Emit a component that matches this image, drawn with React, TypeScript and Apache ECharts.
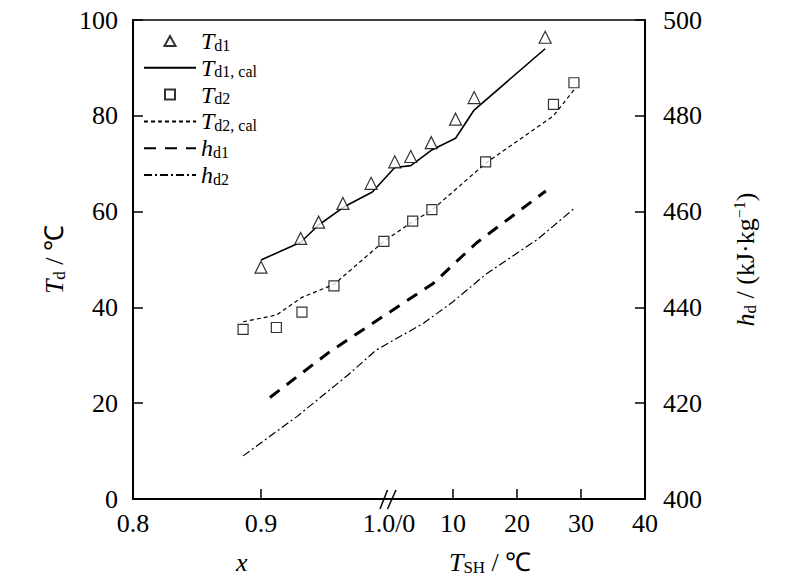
import React, { useEffect, useRef } from 'react';
import * as echarts from 'echarts';

// [scale, position, value]; scale "x" = vapour quality x, "sh" = superheat TSH (°C)
type Pt = [string, number, number];

const xLabelValues = [0, 2, 4, 5, 6, 7, 8];
const xLabelTexts = ['0.8', '0.9', '1.0/0', '10', '20', '30', '40'];
const xInnerTicks = [2, 5, 6, 7];

const td1Measured: Pt[] = [
  ['x', 0.9, 48.4], ['x', 0.931, 54.4], ['x', 0.945, 57.8], ['x', 0.964, 61.7], ['x', 0.986, 65.9],
  ['sh', 0.9, 70.4], ['sh', 3.4, 71.5], ['sh', 6.6, 74.4], ['sh', 10.4, 79.3], ['sh', 13.3, 83.8], ['sh', 24.4, 96.4],
];
const td1Cal: Pt[] = [
  ['x', 0.9, 49.9], ['x', 0.931, 53.6], ['x', 0.945, 57.2], ['x', 0.965, 61.0], ['x', 0.987, 64.1],
  ['sh', 0.9, 69.2], ['sh', 3.4, 69.6], ['sh', 6.6, 72.8], ['sh', 10.4, 75.3], ['sh', 13.3, 81.2], ['sh', 24.4, 94.0],
];
const td2Measured: Pt[] = [
  ['x', 0.886, 35.4], ['x', 0.912, 35.8], ['x', 0.932, 39.0], ['x', 0.957, 44.5], ['x', 0.996, 53.8],
  ['sh', 3.7, 58.0], ['sh', 6.7, 60.4], ['sh', 15.1, 70.4], ['sh', 25.7, 82.4], ['sh', 28.9, 86.9],
];
const td2Cal: Pt[] = [
  ['x', 0.886, 37.0], ['x', 0.912, 38.4], ['x', 0.932, 42.1], ['x', 0.957, 44.8], ['x', 0.996, 53.8],
  ['sh', 3.7, 57.9], ['sh', 6.7, 60.3], ['sh', 15.1, 70.1], ['sh', 25.7, 80.0], ['sh', 28.9, 85.4],
];
const hd1Cal: Pt[] = [
  ['x', 0.907, 421.2], ['x', 0.954, 430.8], ['sh', 2.0, 440.7], ['sh', 6.9, 445.0], ['sh', 13.7, 453.5], ['sh', 24.5, 464.3],
];
const hd2Cal: Pt[] = [
  ['x', 0.886, 409.0], ['x', 0.928, 417.2], ['x', 0.968, 425.9], ['x', 0.99, 431.1],
  ['sh', 5.4, 436.7], ['sh', 10.0, 441.2], ['sh', 15.3, 447.1], ['sh', 23.1, 454.1], ['sh', 28.8, 460.5],
];

const legendNames = ['Td1', 'Td1, cal', 'Td2', 'Td2, cal', 'hd1', 'hd2'];

const toAxis = (scale: string, v: number) => (scale === 'x' ? (v - 0.8) * 20 : 4 + v / 10);
const toSeries = (pts: Pt[]) => pts.map(([s, p, v]) => [toAxis(s, p), v]);

const FONT = "'Liberation Serif', serif";
const TRIANGLE_ICON = 'path://M5,0 L10,9 L0,9 Z';
const SQUARE_ICON = 'path://M0,0 L9,0 L9,9 L0,9 Z';

export default function App() {
  const ref = useRef<HTMLDivElement>(null);
  useEffect(() => {
    if (!ref.current) return;
    const chart = echarts.init(ref.current, undefined, { renderer: 'svg' });
    const nameRich = {
      i: { fontFamily: FONT, fontStyle: 'italic', fontSize: 26, lineHeight: 28, color: '#000' },
      s: { fontFamily: FONT, fontSize: 17, lineHeight: 13, verticalAlign: 'bottom', color: '#000' },
      n: { fontFamily: FONT, fontSize: 26, lineHeight: 28, color: '#000' },
      sup: { fontFamily: FONT, fontSize: 16, lineHeight: 14, verticalAlign: 'top', color: '#000' },
    };
    const tickRich = { t: { fontFamily: FONT, fontSize: 26, lineHeight: 28, color: '#000' } };
    const lineAxis = { show: true, lineStyle: { color: '#000', width: 2 } };
    const lineLegend = (name: string) => ({ name, itemStyle: { opacity: 0 } });
    chart.setOption({
      animation: false,
      backgroundColor: '#fff',
      textStyle: { fontFamily: FONT, color: '#000' },
      grid: { left: 133, right: 155, top: 20, bottom: 85, show: true, borderColor: '#000', borderWidth: 1.5, backgroundColor: 'transparent' },
      legend: {
        orient: 'vertical',
        left: 143,
        top: 29,
        padding: 0,
        itemGap: 2.8,
        itemWidth: 52,
        itemHeight: 10,
        symbolKeepAspect: true,
        data: [
          { name: legendNames[0], icon: TRIANGLE_ICON },
          lineLegend(legendNames[1]),
          { name: legendNames[2], icon: SQUARE_ICON },
          lineLegend(legendNames[3]),
          lineLegend(legendNames[4]),
          lineLegend(legendNames[5]),
        ],
        formatter: (name: string) => `{i|${name[0]}}{s|${name.slice(1)}}`,
        textStyle: {
          fontFamily: FONT,
          color: '#000',
          rich: {
            i: { fontFamily: FONT, fontStyle: 'italic', fontSize: 24, lineHeight: 24, color: '#000' },
            s: { fontFamily: FONT, fontSize: 16, lineHeight: 12, verticalAlign: 'bottom', color: '#000' },
          },
        },
      },
      xAxis: {
        type: 'value',
        min: 0,
        max: 8,
        interval: 1,
        axisLine: lineAxis,
        splitLine: { show: false },
        axisTick: { show: true, inside: true, length: 10, customValues: xInnerTicks, lineStyle: { color: '#000', width: 1.5 } },
        axisLabel: {
          fontFamily: FONT,
          fontSize: 26,
          color: '#000',
          margin: 10,
          customValues: xLabelValues,
          rich: tickRich,
          formatter: (v: number) => {
            const i = xLabelValues.indexOf(v);
            return i >= 0 ? `{t|${xLabelTexts[i]}}` : '';
          },
        },
      },
      yAxis: [
        {
          type: 'value',
          min: 0,
          max: 100,
          interval: 20,
          position: 'left',
          axisLine: lineAxis,
          splitLine: { show: false },
          axisTick: { show: true, inside: true, length: 10, lineStyle: { color: '#000', width: 1.5 } },
          axisLabel: { fontFamily: FONT, fontSize: 26, color: '#000', margin: 15, rich: tickRich, formatter: (v: number) => `{t|${v}}` },
          name: '{i|T}{s|d}{n| / ℃}',
          nameLocation: 'middle',
          nameRotate: 90,
          nameGap: 64,
          nameTextStyle: { rich: nameRich },
        },
        {
          type: 'value',
          min: 400,
          max: 500,
          interval: 20,
          position: 'right',
          axisLine: lineAxis,
          splitLine: { show: false },
          axisTick: { show: true, inside: true, length: 10, lineStyle: { color: '#000', width: 1.5 } },
          axisLabel: { fontFamily: FONT, fontSize: 26, color: '#000', margin: 18, rich: tickRich, formatter: (v: number) => `{t|${v}}` },
          name: '{i|h}{s|d}{n| / (kJ·kg}{sup|−1}{n|)}',
          nameLocation: 'middle',
          nameRotate: 90,
          nameGap: 86,
          nameTextStyle: { rich: nameRich },
        },
      ],
      series: [
        {
          name: legendNames[0],
          type: 'scatter',
          symbol: 'triangle',
          symbolSize: 12,
          itemStyle: { color: '#fff', borderColor: '#000', borderWidth: 1.2 },
          data: toSeries(td1Measured),
          z: 5,
        },
        {
          name: legendNames[1],
          type: 'line',
          symbol: 'none',
          itemStyle: { color: '#000' },
          lineStyle: { color: '#000', width: 1.6, type: 'solid' },
          data: toSeries(td1Cal),
        },
        {
          name: legendNames[2],
          type: 'scatter',
          symbol: 'rect',
          symbolSize: 10,
          itemStyle: { color: '#fff', borderColor: '#000', borderWidth: 1.2 },
          data: toSeries(td2Measured),
          z: 5,
        },
        {
          name: legendNames[3],
          type: 'line',
          symbol: 'none',
          itemStyle: { color: '#000' },
          lineStyle: { color: '#000', width: 1.2, type: [4, 3] },
          data: toSeries(td2Cal),
        },
        {
          name: legendNames[4],
          type: 'line',
          symbol: 'none',
          yAxisIndex: 1,
          itemStyle: { color: '#000' },
          lineStyle: { color: '#000', width: 3, type: [12, 9] },
          data: toSeries(hd1Cal),
        },
        {
          name: legendNames[5],
          type: 'line',
          symbol: 'none',
          yAxisIndex: 1,
          itemStyle: { color: '#000' },
          lineStyle: { color: '#000', width: 1.2, type: [8, 3, 2, 3] },
          data: toSeries(hd2Cal),
        },
      ],
    });

    const bx = chart.convertToPixel({ xAxisIndex: 0 }, 4) as number;
    const by = chart.convertToPixel({ yAxisIndex: 0 }, 0) as number;
    const xNameX = chart.convertToPixel({ xAxisIndex: 0 }, 1.7) as number;
    const tNameX = chart.convertToPixel({ xAxisIndex: 0 }, 5.58) as number;
    const bottomRich = {
      i: { fontFamily: FONT, fontStyle: 'italic', fontSize: 26, lineHeight: 28, fill: '#000' },
      s: { fontFamily: FONT, fontSize: 17, lineHeight: 13, verticalAlign: 'bottom', fill: '#000' },
      n: { fontFamily: FONT, fontSize: 26, lineHeight: 28, fill: '#000' },
    };
    chart.setOption({
      graphic: [
        {
          type: 'line',
          shape: { x1: bx - 9, y1: by + 10, x2: bx - 1.5, y2: by - 9 },
          style: { stroke: '#000', lineWidth: 1.5 },
          z: 10,
        },
        {
          type: 'line',
          shape: { x1: bx - 1.5, y1: by + 10, x2: bx + 7, y2: by - 9 },
          style: { stroke: '#000', lineWidth: 1.5 },
          z: 10,
        },
        {
          type: 'text',
          x: xNameX,
          y: by + 63,
          style: { text: '{i|x}', rich: bottomRich, align: 'center', verticalAlign: 'middle', fill: '#000' },
        },
        {
          type: 'text',
          x: tNameX,
          y: by + 63,
          style: { text: '{i|T}{s|SH}{n| / ℃}', rich: bottomRich, align: 'center', verticalAlign: 'middle', fill: '#000' },
        },
      ],
    });
    return () => chart.dispose();
  }, []);
  return <div ref={ref} style={{ position: 'fixed', left: 0, top: 0, width: 800, height: 584 }} />;
}
